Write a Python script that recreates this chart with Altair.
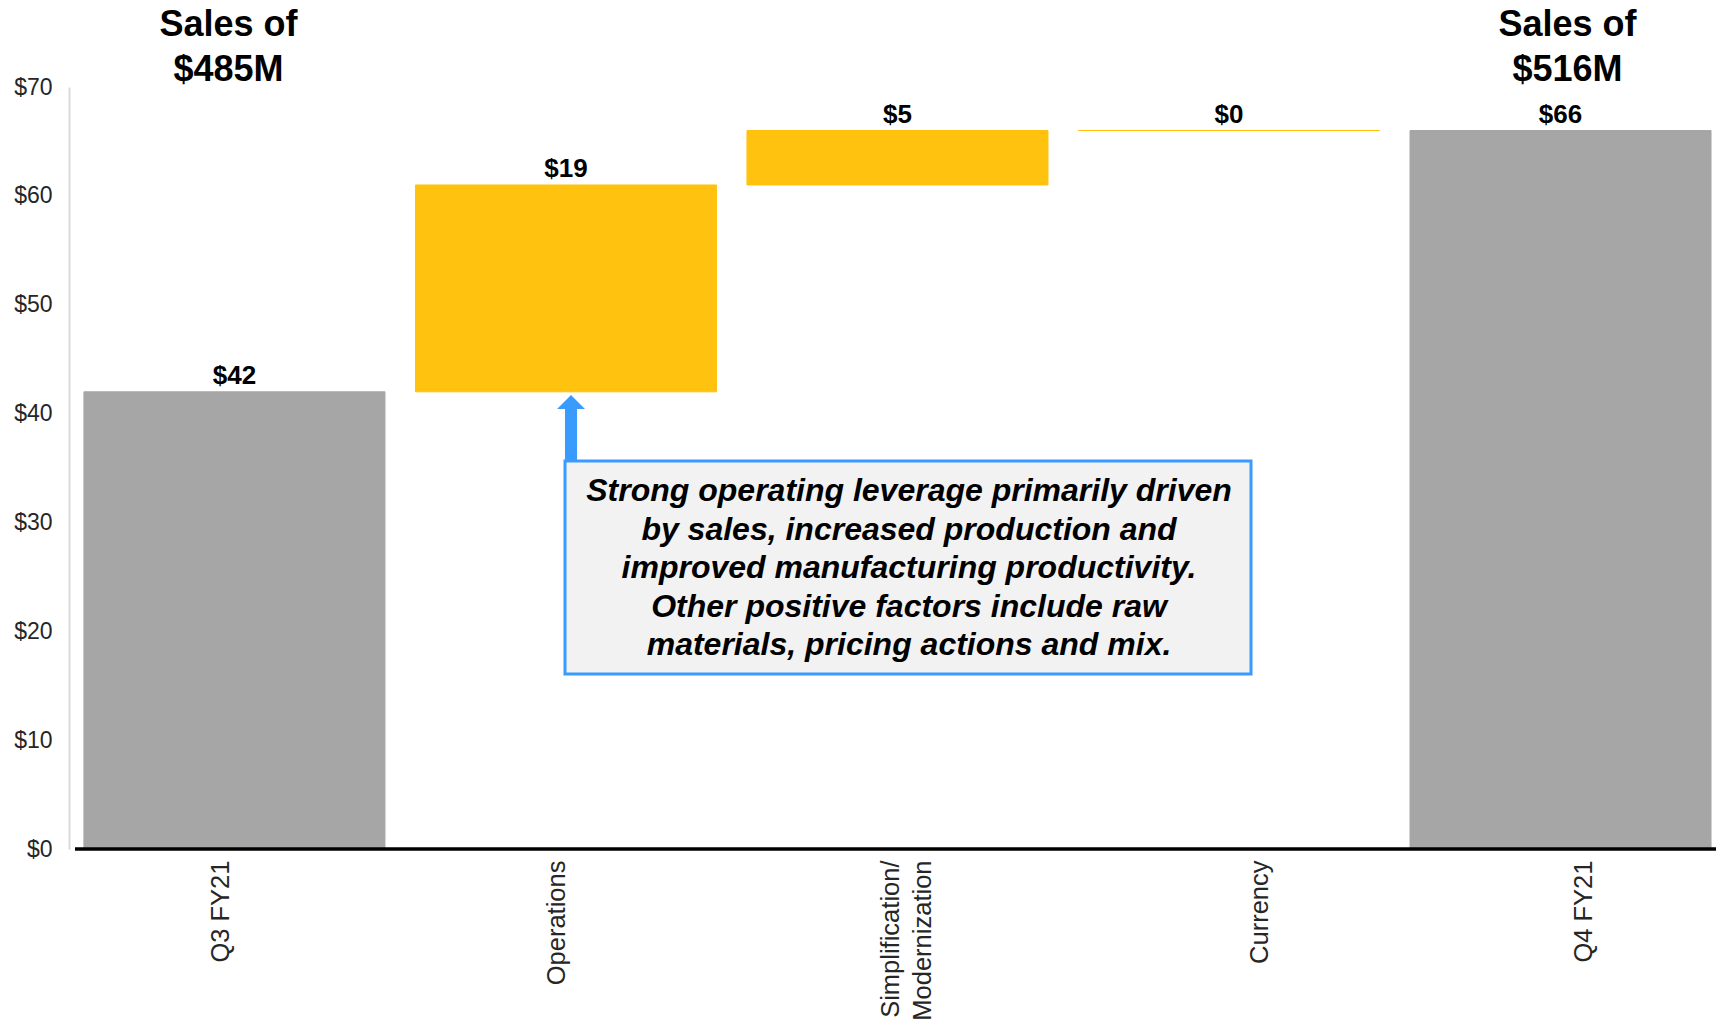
import altair as alt
import pandas as pd

# ---------------- data ----------------
categories = ["Q3 FY21", "Operations", "Simplification/ Modernization", "Currency", "Q4 FY21"]
amounts = [42, 19, 5, 0, 66]
kinds = ["total", "delta", "delta", "delta", "total"]
sales_start_m = 485
sales_end_m = 516
y_ticks = [0, 10, 20, 30, 40, 50, 60, 70]
note_lines = [
    "Strong operating leverage primarily driven",
    "by sales, increased production and",
    "improved manufacturing productivity.",
    "Other positive factors include raw",
    "materials, pricing actions and mix.",
]

# ---------------- build waterfall table ----------------
rows = []
running = 0
for cat, amt, kind in zip(categories, amounts, kinds):
    if kind == "total":
        start, end = 0, amt
    else:
        start, end = running, running + amt
    running = end
    rows.append({"cat": cat, "start": start, "end": end, "kind": kind,
                 "label": f"${amt}", "top": max(start, end)})
df = pd.DataFrame(rows)

titles = pd.DataFrame({
    "cat": [categories[0], categories[-1]],
    "t": [f"Sales of\n${sales_start_m}M", f"Sales of\n${sales_end_m}M"],
})
note = pd.DataFrame({"note": ["\n".join(note_lines)]})

# ---------------- styling ----------------
FONT = "Liberation Sans"
GRAY = "#A6A6A6"
GOLD = "#FFC20E"
BLUE = "#3A9BFF"
TEXT = "#262626"

label_nudge = {categories[0]: -13, categories[1]: -9, categories[2]: -6,
               categories[3]: 31, categories[4]: 23}
multi = {categories[2]: ["Simplification/", "Modernization"]}
label_expr = " : ".join(
    [f"datum.label === '{k}' ? {v!r}" for k, v in multi.items()] + ["datum.label"]
)

x_scale = alt.Scale(paddingInner=0.092, paddingOuter=0.03, align=0.75)
x_enc = alt.X(
    "cat:N", sort=categories, scale=x_scale, title=None,
    axis=alt.Axis(
        labelAngle=-90, labelFontSize=25.5, labelFont=FONT, labelColor=TEXT,
        labelPadding=11, labelLineHeight=32, ticks=False, domain=False,
        labelExpr=label_expr,
        labelOffset={"condition": [{"test": f"datum.value === '{k}'", "value": v}
                                   for k, v in label_nudge.items()],
                     "value": 0},
    ),
)
y_scale = alt.Scale(domain=[0, 70], nice=False)
y_axis = alt.Axis(values=y_ticks, labelExpr="'$' + datum.value", grid=False,
                  ticks=False, labelFontSize=23, labelFont=FONT, labelColor=TEXT,
                  labelPadding=17, domainColor="#D9D9D9", domainWidth=2)
color_scale = alt.Scale(domain=["total", "delta"], range=[GRAY, GOLD])

base = alt.Chart(df)

bars = base.mark_bar(strokeWidth=1).encode(
    x=x_enc,
    y=alt.Y("start:Q", scale=y_scale, axis=y_axis, title=None),
    y2="end:Q",
    color=alt.Color("kind:N", scale=color_scale, legend=None),
    stroke=alt.Stroke("kind:N", scale=color_scale, legend=None),
)

baseline = alt.Chart(note).mark_rule(color="#000000", strokeWidth=3.5).encode(
    x=alt.value(6), x2=alt.value(1647), y=alt.datum(0))

values = base.mark_text(font=FONT, fontSize=26, fontWeight="bold",
                        color="#000000", baseline="alphabetic", dy=-8).encode(
    x=alt.X("cat:N", sort=categories),
    y=alt.Y("top:Q"),
    text="label:N",
)

title_left = alt.Chart(titles).transform_filter(
    alt.datum.cat == categories[0]).mark_text(
    font=FONT, fontSize=36, fontWeight="bold", color="#000000",
    baseline="alphabetic", lineBreak="\n", lineHeight=45, dx=-6).encode(
    x=alt.X("cat:N", sort=categories), y=alt.value(-51), text="t:N")

title_right = alt.Chart(titles).transform_filter(
    alt.datum.cat == categories[-1]).mark_text(
    font=FONT, fontSize=36, fontWeight="bold", color="#000000",
    baseline="alphabetic", lineBreak="\n", lineHeight=45, dx=7).encode(
    x=alt.X("cat:N", sort=categories), y=alt.value(-51), text="t:N")

box = alt.Chart(note).mark_rect(fill="#F2F2F2", stroke=BLUE, strokeWidth=3).encode(
    x=alt.value(496), x2=alt.value(1182), y=alt.value(374), y2=alt.value(587))

note_text = alt.Chart(note).mark_text(
    font=FONT, fontSize=32, fontWeight="bold", fontStyle="italic",
    color="#000000", lineBreak="\n", lineHeight=38.5, align="center",
    baseline="middle").encode(
    x=alt.value(840), y=alt.value(404), text="note:N")

arrow_path = ("M-0.182,1 L-0.182,-0.576 L-0.424,-0.576 L0,-1 "
              "L0.424,-0.576 L0.182,-0.576 L0.182,1 Z")
arrow = alt.Chart(note).mark_point(shape=arrow_path, size=4356, filled=True,
                                   fill=BLUE, opacity=1, strokeWidth=0).encode(
    x=alt.value(502), y=alt.value(341))

chart = alt.layer(bars, baseline, values, title_left, title_right, box,
                  note_text, arrow).properties(
    width=1647, height=762,
    autosize=alt.AutoSizeParams(type="none"),
    padding={"left": 69, "top": 87, "right": 0, "bottom": 176},
    background="#FFFFFF",
).configure_view(stroke=None)

chart.save("out.html", embed_options={"renderer": "svg", "actions": False})
